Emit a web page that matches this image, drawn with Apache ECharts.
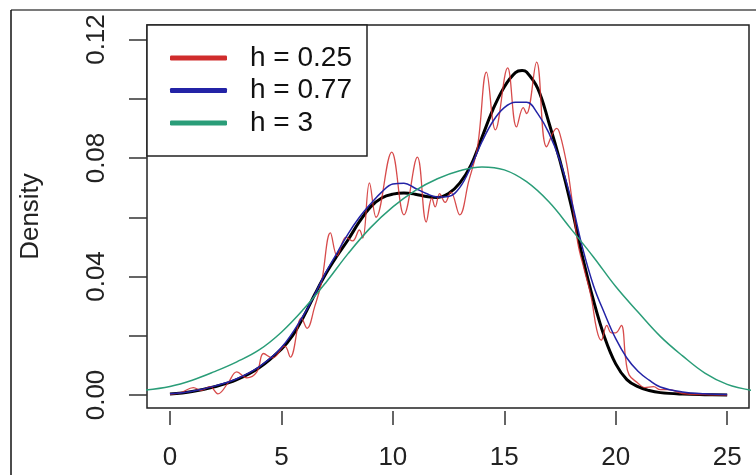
<!DOCTYPE html>
<html>
<head>
<meta charset="utf-8">
<script src="https://cdn.jsdelivr.net/npm/echarts@6/dist/echarts.min.js"></script>
<style>
html,body{margin:0;padding:0;background:#fff;}
#chart{width:756px;height:475px;}
</style>
</head>
<body>
<div id="chart"></div>
<script>
// ---- data ----
const legendNames = ['h = 0.25', 'h = 0.77', 'h = 3'];
const xTicks = [0, 5, 10, 15, 20, 25];
const yTicks = [0, 0.02, 0.04, 0.06, 0.08, 0.10, 0.12];
const yLabels = [0, 0.04, 0.08, 0.12];

// true density (black)
const trueX = [0,1,2,3,4,5,5.5,6,6.5,7,7.5,8,8.5,9,9.5,10,10.5,11,11.5,12,12.5,13,13.5,14,14.5,15,15.5,15.8,16,16.5,17,17.5,18,18.5,19,19.5,20,20.5,21,21.5,22,23,24,25];
const trueY = [0.0003,0.0012,0.0028,0.0052,0.0092,0.0155,0.020,0.0265,0.034,0.041,0.047,0.0525,0.0585,0.0635,0.0665,0.0678,0.0682,0.0678,0.0670,0.0667,0.0680,0.0715,0.0775,0.087,0.0965,0.104,0.1088,0.1095,0.109,0.1035,0.092,0.079,0.064,0.047,0.032,0.0195,0.0105,0.0052,0.0028,0.0015,0.0008,0.0003,0.0001,0];

// h = 0.25 (red)
const redX = [0,0.5,1.05,1.4,1.8,2.15,2.6,3.0,3.45,3.9,4.2,4.6,5.15,5.4,5.9,6.15,6.5,6.8,7.2,7.5,7.9,8.2,8.5,8.65,8.95,9.25,9.95,10.5,11.1,11.5,11.75,11.9,12.1,12.35,12.6,13.0,13.4,13.8,14.2,14.6,15.15,15.55,15.85,16.0,16.45,16.9,17.35,17.5,17.8,18.0,18.3,18.6,18.9,19.15,19.35,19.6,19.8,20.0,20.25,20.45,20.6,21.0,21.3,21.7,22.0,22.4,23,24,25];
const redY = [0.0002,0.0008,0.0025,0.0015,0.0028,0.0004,0.004,0.0078,0.0058,0.0078,0.014,0.0125,0.0165,0.0128,0.026,0.0225,0.030,0.038,0.0547,0.047,0.0533,0.052,0.0557,0.053,0.0716,0.060,0.082,0.0608,0.0803,0.0584,0.0665,0.0635,0.068,0.065,0.0685,0.0608,0.072,0.0838,0.109,0.0895,0.1104,0.0905,0.097,0.095,0.1124,0.0838,0.090,0.088,0.078,0.068,0.0513,0.042,0.033,0.022,0.0185,0.0235,0.021,0.021,0.0235,0.012,0.0068,0.004,0.0025,0.0028,0.0018,0.0018,0.0005,0.0001,0];

// h = 0.77 (blue)
const blueX = [0,1,2,3,4,5,6,6.5,7,7.5,8,8.5,9,9.5,10,10.5,11,11.5,12,12.5,13,13.5,14,14.5,15,15.5,16,16.5,17,17.5,18,18.5,19,19.5,20,20.5,21,21.5,22,23,24,25];
const blueY = [0.0004,0.0013,0.003,0.0055,0.0095,0.016,0.027,0.034,0.0415,0.048,0.0545,0.060,0.0645,0.0685,0.0712,0.0715,0.0698,0.068,0.0668,0.067,0.0700,0.077,0.0855,0.0925,0.097,0.0988,0.0988,0.095,0.0885,0.079,0.066,0.050,0.037,0.0275,0.019,0.0125,0.008,0.005,0.0027,0.001,0.0004,0.0002];

// h = 3 (green)
const greenX = [-1.1,0,1,2,3,4,5,6,7,8,9,10,11,12,13,14,15,16,17,18,19,20,21,22,23,24,25,26.1];
const greenY = [0.0017,0.0029,0.0050,0.0079,0.0112,0.0152,0.0212,0.0290,0.0380,0.0478,0.0565,0.0635,0.0690,0.0730,0.0757,0.0770,0.0760,0.0720,0.0652,0.0560,0.0466,0.0366,0.0280,0.0198,0.0132,0.0074,0.0036,0.0016];

const colors = { red: '#d02c2c', blue: '#2323a6', green: '#2a9d78' };

function pairs(xs, ys) { return xs.map((x, i) => [x, ys[i]]); }

const FONT = "'Liberation Sans', Arial, sans-serif";
const chart = echarts.init(document.getElementById('chart'), null, { renderer: 'canvas' });

chart.setOption({
  animation: false,
  backgroundColor: '#fff',
  textStyle: { fontFamily: FONT },
  graphic: [
    { type: 'line', shape: { x1: 11, y1: 10, x2: 756, y2: 10 }, style: { stroke: '#7a7a7a', lineWidth: 2 }, z: 100 },
    { type: 'line', shape: { x1: 11, y1: 10, x2: 11, y2: 475 }, style: { stroke: '#111', lineWidth: 1.5 }, z: 100 }
  ],
  grid: {
    left: 147, top: 25, right: 7, bottom: 67,
    show: true, borderColor: '#222', borderWidth: 1.5, backgroundColor: 'transparent'
  },
  legend: {
    orient: 'vertical',
    left: 147, top: 25,
    padding: [16.75, 15, 16.75, 23],
    itemWidth: 57, itemHeight: 5, itemGap: 0,
    backgroundColor: '#fff',
    borderColor: '#222', borderWidth: 1.5,
    textStyle: { fontFamily: FONT, fontSize: 28, color: '#111', lineHeight: 32.5, padding: [0, 0, 0, 18], width: 102 },
    data: [
      { name: legendNames[0], icon: 'roundRect', itemStyle: { color: colors.red } },
      { name: legendNames[1], icon: 'roundRect', itemStyle: { color: colors.blue } },
      { name: legendNames[2], icon: 'roundRect', itemStyle: { color: colors.green } }
    ]
  },
  xAxis: {
    type: 'value', min: -1.03, max: 25.98, offset: 3,
    axisLine: { show: false, onZero: false },
    splitLine: { show: false },
    axisTick: { show: true, customValues: xTicks, length: 14, lineStyle: { color: '#333', width: 1.5 } },
    axisLabel: { customValues: xTicks, fontSize: 26, color: '#222', margin: 34, fontFamily: FONT }
  },
  yAxis: {
    type: 'value', min: -0.00439, max: 0.1249,
    name: 'Density', nameLocation: 'middle', nameRotate: 90, nameGap: 103,
    nameTextStyle: { fontSize: 26, color: '#222', fontFamily: FONT },
    axisLine: { show: false, onZero: false },
    splitLine: { show: false },
    axisTick: { show: true, customValues: yTicks, length: 18, lineStyle: { color: '#333', width: 1.5 } },
    axisLabel: { customValues: yLabels, rotate: 90, fontSize: 26, color: '#222', margin: 37, fontFamily: FONT,
      formatter: v => v.toFixed(2) }
  },
  series: [
    { name: 'true', type: 'line', data: pairs(trueX, trueY), showSymbol: false, smooth: 0.4,
      lineStyle: { color: '#000', width: 3 }, itemStyle: { color: '#000' }, z: 2 },
    { name: legendNames[0], type: 'line', data: pairs(redX, redY), showSymbol: false, smooth: 0.4,
      lineStyle: { color: colors.red, width: 1.3, opacity: 0.85 }, itemStyle: { color: colors.red }, z: 3 },
    { name: legendNames[1], type: 'line', data: pairs(blueX, blueY), showSymbol: false, smooth: 0.4,
      lineStyle: { color: colors.blue, width: 1.5 }, itemStyle: { color: colors.blue }, z: 4 },
    { name: legendNames[2], type: 'line', data: pairs(greenX, greenY), showSymbol: false, smooth: 0.4,
      lineStyle: { color: colors.green, width: 1.5 }, itemStyle: { color: colors.green }, z: 5 }
  ]
});
</script>
</body>
</html>
